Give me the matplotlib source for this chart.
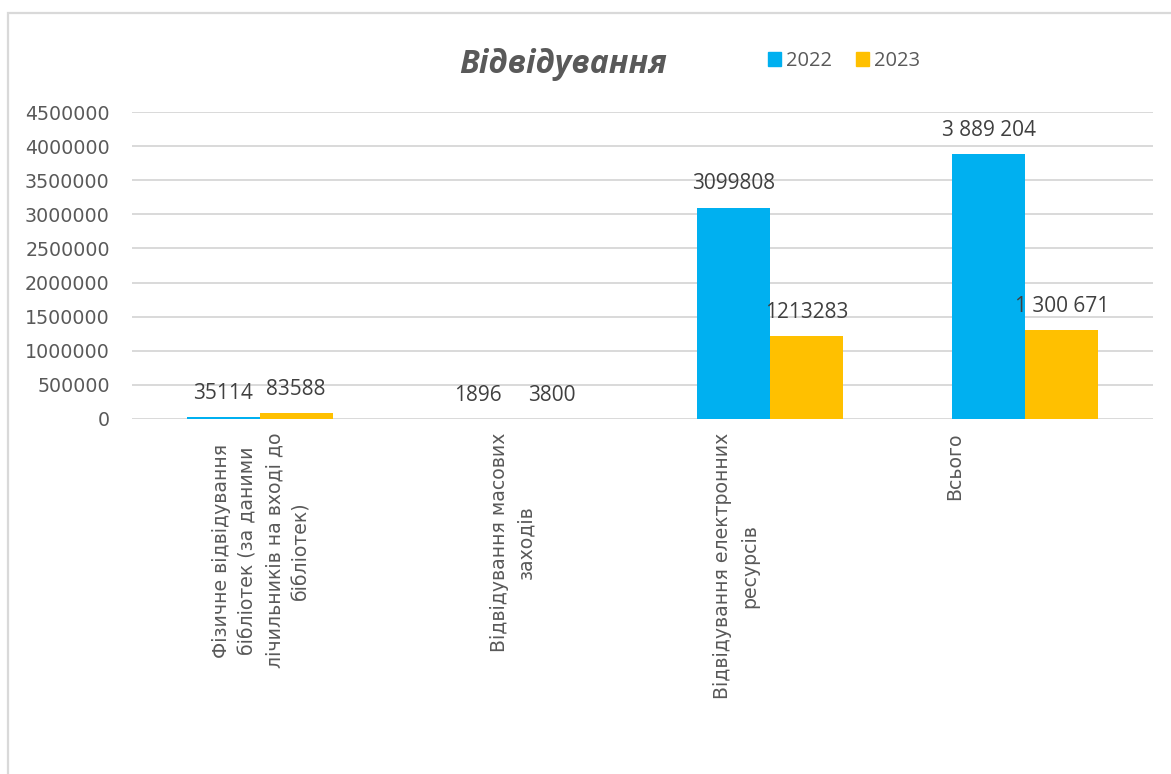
import numpy as np
import matplotlib
matplotlib.use("Agg")
import matplotlib.pyplot as plt
import matplotlib.transforms as mtransforms
from matplotlib.patches import Rectangle, Patch

categories = [
    "Фізичне відвідування\nбібліотек (за даними\nлічильників на вході до\nбібліотек)",
    "Відвідування масових\nзаходів",
    "Відвідування електронних\nресурсів",
    "Всього",
]
years = ["2022", "2023"]
visits_2022 = [35114, 1896, 3099808, 3889204]
visits_2023 = [83588, 3800, 1213283, 1300671]
labels_2022 = ["35114", "1896", "3099808", "3 889 204"]
labels_2023 = ["83588", "3800", "1213283", "1 300 671"]
yticks = np.arange(0, 4500001, 500000)

blue = "#00B0F0"
gold = "#FFC000"
grey_txt = "#595959"
label_txt = "#404040"
grid_col = "#D9D9D9"

W, H = 1171, 774
fig = plt.figure(figsize=(W / 100, H / 100), dpi=100)
fig.patch.set_facecolor("white")

# outer chart frame (cut off at right and bottom)
fig.patches.append(Rectangle((8 / W, -0.2), 1.2, 1.2 - 13 / H,
                             transform=fig.transFigure, fill=False,
                             edgecolor="#D9D9D9", lw=1.6))

ax = fig.add_axes([132 / W, 1 - 419 / H, (1153 - 132) / W, (419 - 112) / H])

x = np.arange(len(categories))
bw = 0.286
b1 = ax.bar(x - bw / 2, visits_2022, bw, color=blue, zorder=3)
b2 = ax.bar(x + bw / 2, visits_2023, bw, color=gold, zorder=3)

for bars, labs in [(b1, labels_2022), (b2, labels_2023)]:
    for rect, lab in zip(bars, labs):
        ax.annotate(lab, (rect.get_x() + rect.get_width() / 2, rect.get_height()),
                    xytext=(0, 13), textcoords="offset points",
                    ha="center", va="baseline", fontsize=15,
                    family="Open Sans", color=label_txt, zorder=4)

ax.set_xlim(-0.5, len(categories) - 0.5)
ax.set_ylim(0, 4500000)
ax.set_yticks(yticks)
ax.set_yticklabels([str(v) for v in yticks], fontsize=13.7, color=grey_txt,
                   family="DejaVu Sans")
ax.yaxis.grid(True, color=grid_col, lw=1.4, zorder=0)
ax.tick_params(axis="y", length=0, pad=16)
ax.tick_params(axis="x", length=0, pad=10)

ax.set_xticks(x)
ax.set_xticklabels(categories, rotation=90, ha="center", va="top",
                   fontsize=13.6, color=grey_txt, family="DejaVu Sans",
                   multialignment="center", linespacing=1.5)
shifts = [1.4, -1.5, -24.5, -51]
for lbl, dx in zip(ax.get_xticklabels(), shifts):
    off = mtransforms.ScaledTranslation(dx / 72, 0, fig.dpi_scale_trans)
    lbl.set_transform(lbl.get_transform() + off)

for s in ax.spines.values():
    s.set_visible(False)

fig.text(563 / W, 1 - 73 / H, "Відвідування", ha="center", va="baseline",
         fontsize=23, fontweight="bold", fontstyle="italic",
         family="Open Sans", color=grey_txt)

handles = [Patch(color=blue), Patch(color=gold)]
fig.legend(handles, years, loc="center left",
           bbox_to_anchor=(758 / W, 1 - 61 / H), ncol=2, frameon=False,
           handlelength=0.65, handleheight=0.65, handletextpad=0.25,
           columnspacing=1.2, borderpad=0,
           prop={"family": "Open Sans", "size": 14.5}, labelcolor=grey_txt)

fig.savefig("out.png", dpi=100, facecolor="white")
